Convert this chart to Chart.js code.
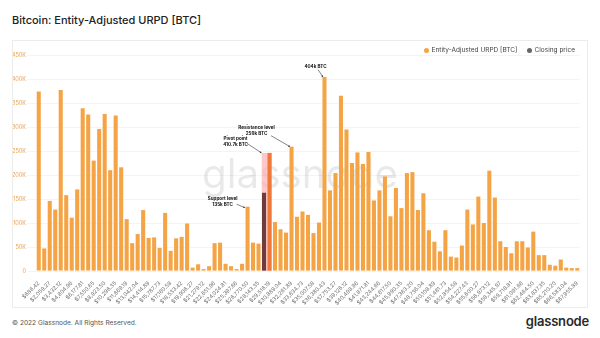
<!DOCTYPE html>
<html>
<head>
<meta charset="utf-8">
<script src="https://cdn.jsdelivr.net/npm/chart.js@4"></script>
<style>
  body { margin: 0; width: 600px; height: 338px; background: #fff; font-family: Inter, "Noto Sans", sans-serif; position: relative; overflow: hidden; }
  #title { position: absolute; left: 12px; top: 13px; font-size: 11px; font-weight: 500; color: #222; }
  #box { position: absolute; left: 12px; top: 40px; width: 576px; height: 268px; border: 1px solid #ececec; box-sizing: border-box; }
  #chart { position: absolute; left: 0; top: 0; }
  #legend { position: absolute; right: 12px; top: 5px; font-size: 6.5px; color: #444; display: flex; gap: 9px; }
  #legend span i { display: inline-block; width: 5px; height: 5px; border-radius: 50%; margin-right: 3px; vertical-align: -0.5px; }
  #copy { position: absolute; left: 12px; top: 319px; font-size: 6.6px; color: #555; }
  #logo { position: absolute; right: 11px; top: 313px; font-size: 13px; font-weight: 600; color: #2a2a2a; letter-spacing: -0.2px; }
</style>
</head>
<body>
<div id="title">Bitcoin: Entity-Adjusted URPD [BTC]</div>
<div id="box">
  <canvas id="chart" width="574" height="266"></canvas>
  <div id="legend">
    <span><i style="background:#f4a445"></i>Entity-Adjusted URPD [BTC]</span>
    <span><i style="background:#666"></i>Closing price</span>
  </div>
</div>
<div id="copy">© 2022 Glassnode. All Rights Reserved.</div>
<div id="logo">glassnode</div>
<script>
// price bins (USD)
var bins = [686.42, 1372.85, 2059.27, 2745.69, 3432.12, 4118.54, 4804.96, 5491.39, 6177.81, 6864.23,
  7550.65, 8237.08, 8923.50, 9609.92, 10296.35, 10982.77, 11669.19, 12355.62, 13042.04, 13728.46,
  14414.89, 15101.31, 15787.73, 16474.16, 17160.58, 17847.00, 18533.42, 19219.85, 19906.27, 20592.69,
  21279.12, 21965.54, 22651.96, 23338.39, 24024.81, 24711.23, 25397.66, 26084.08, 26770.50, 27456.92,
  28143.35, 28829.77, 29516.19, 30202.62, 30889.04, 31575.46, 32261.89, 32948.31, 33634.73, 34321.16,
  35007.58, 35694.00, 36380.43, 37066.85, 37753.27, 38439.69, 39126.12, 39812.54, 40498.96, 41185.39,
  41871.81, 42558.23, 43244.66, 43931.08, 44617.50, 45303.93, 45990.35, 46676.77, 47363.20, 48049.62,
  48736.04, 49422.46, 50108.89, 50795.31, 51481.73, 52168.16, 52854.58, 53541.00, 54227.43, 54913.85,
  55600.27, 56286.70, 56973.12, 57659.54, 58345.97, 59032.39, 59718.81, 60405.23, 61091.66, 61778.08,
  62464.50, 63150.93, 63837.35, 64523.77, 65210.20, 65896.62, 66583.04, 67269.47, 67955.89];

// supply per bin, thousands of BTC
var urpd = [374, 47, 146, 128, 377, 158, 111, 170, 339, 326,
  230, 296, 327, 210, 324, 216, 108, 58, 77, 127,
  69, 70, 48, 121, 42, 68, 71, 99, 7, 14,
  4, 10, 58, 59, 15, 10, 4, 15, 134, 59,
  57, 163, 246, 102, 87, 80, 259, 113, 124, 117,
  79, 101, 404, 168, 204, 365, 295, 225, 247, 223,
  248, 147, 168, 197, 114, 173, 131, 204, 206, 127,
  162, 85, 61, 41, 85, 30, 28, 53, 128, 97,
  155, 100, 209, 153, 62, 50, 37, 62, 62, 49,
  82, 33, 33, 13, 11, 24, 7, 6, 6];

var yTicks = [0, 50, 100, 150, 200, 250, 300, 350, 400, 450];
var closingIndex = 41;
var pivotIndex = 42;

var notes = [
  { lines: ['404k BTC'], index: 52, value: 404, tx: -9, ty: -10, ax: -6.5, ay: -7.5, ex: -1.5, ey: 0 },
  { lines: ['Resistance level', '259k BTC'], index: 46, value: 259, tx: -35, ty: -16, ax: -20.5, ay: -11, ex: -1.5, ey: 0 },
  { lines: ['Pivot point', '410.7k BTC'], index: 41, value: 246, tx: -28.5, ty: -11, ax: -17, ay: -9.5, ex: -2.5, ey: 0 },
  { lines: ['Support level', '135k BTC'], index: 38, value: 134, tx: -25, ty: -5.5, ax: -11, ay: -2.5, ex: -2.5, ey: 1 }
];

var orange = '#f4a445';

var backdrop = {
  id: 'backdrop',
  beforeDatasetsDraw: function (chart) {
    var ctx = chart.ctx, a = chart.chartArea, x = chart.scales.x, y = chart.scales.y;
    ctx.save();
    // watermark
    ctx.fillStyle = 'rgba(0,0,0,0.085)';
    ctx.font = '400 50px Inter';
    var tw = ctx.measureText('glassnode').width;
    var size = 50 * 196 / tw;
    ctx.font = '400 ' + size + 'px Inter';
    ctx.textAlign = 'left';
    ctx.fillText('glassnode', a.left + 166, (a.top + a.bottom) / 2 + 25);
    // pivot highlight
    var w = x.getPixelForValue(1) - x.getPixelForValue(0);
    var l = x.getPixelForValue(closingIndex) - w * 0.42;
    var r = x.getPixelForValue(pivotIndex) + w * 0.42;
    var top = y.getPixelForValue(Math.max(urpd[closingIndex], urpd[pivotIndex]));
    ctx.fillStyle = 'rgba(250,170,170,0.65)';
    ctx.fillRect(l, top, r - l, y.getPixelForValue(0) - top);
    ctx.restore();
  },
  afterDatasetsDraw: function (chart) {
    var ctx = chart.ctx, x = chart.scales.x, y = chart.scales.y;
    ctx.save();
    ctx.font = 'bold 4.6px Inter';
    ctx.textAlign = 'center';
    ctx.textBaseline = 'middle';
    notes.forEach(function (n) {
      var px = x.getPixelForValue(n.index), py = y.getPixelForValue(n.value);
      ctx.fillStyle = '#111';
      n.lines.forEach(function (t, k) {
        ctx.fillText(t, px + n.tx, py + n.ty + (k - (n.lines.length - 1) / 2) * 6);
      });
      var x0 = px + n.ax, y0 = py + n.ay, x1 = px + n.ex, y1 = py + n.ey;
      ctx.strokeStyle = '#333';
      ctx.lineWidth = 0.6;
      ctx.beginPath(); ctx.moveTo(x0, y0); ctx.lineTo(x1, y1); ctx.stroke();
      var ang = Math.atan2(y1 - y0, x1 - x0);
      ctx.beginPath();
      ctx.moveTo(x1, y1);
      ctx.lineTo(x1 - 2 * Math.cos(ang - 0.5), y1 - 2 * Math.sin(ang - 0.5));
      ctx.lineTo(x1 - 2 * Math.cos(ang + 0.5), y1 - 2 * Math.sin(ang + 0.5));
      ctx.closePath();
      ctx.fillStyle = '#333';
      ctx.fill();
    });
    ctx.restore();
  }
};

new Chart(document.getElementById('chart'), {
  type: 'bar',
  data: {
    labels: bins,
    datasets: [{
      label: 'Entity-Adjusted URPD [BTC]',
      data: urpd.map(function (v, i) { return i === closingIndex ? null : v; }),
      backgroundColor: function (c) { return c.dataIndex === pivotIndex ? '#f07838' : orange; },
      barPercentage: 0.74,
      categoryPercentage: 1
    }, {
      label: 'Closing price',
      data: urpd.map(function (v, i) { return i === closingIndex ? v : null; }),
      backgroundColor: '#6e3c3c',
      barPercentage: 0.74,
      categoryPercentage: 1
    }]
  },
  options: {
    responsive: false,
    animation: false,
    layout: { padding: { top: 14, right: 7, left: 0, bottom: 0 } },
    plugins: { legend: { display: false }, tooltip: { enabled: false } },
    scales: {
      x: {
        stacked: true,
        grid: { display: false },
        border: { display: false },
        afterFit: function (s) { s.height = 36; },
        ticks: {
          autoSkip: false, maxRotation: 45, minRotation: 45, padding: 1,
          color: '#707070', font: { size: 5.5, family: 'Inter' },
          callback: function (v, i) {
            return i % 2 === 0 ? '$' + bins[i].toLocaleString('en-US', { minimumFractionDigits: 2, maximumFractionDigits: 2 }) : '';
          }
        }
      },
      y: {
        stacked: true,
        min: 0, max: 450,
        afterFit: function (s) { s.width = 23; },
        afterBuildTicks: function (s) { s.ticks = yTicks.map(function (v) { return { value: v }; }); },
        grid: { color: '#f1f1f1', lineWidth: 0.8 },
        border: { display: false },
        ticks: {
          padding: 2, color: '#e9a050', font: { size: 5.5, family: 'Inter' },
          callback: function (v) { return v === 0 ? '0' : v + 'K'; }
        }
      }
    }
  },
  plugins: [backdrop]
});
</script>
</body>
</html>
